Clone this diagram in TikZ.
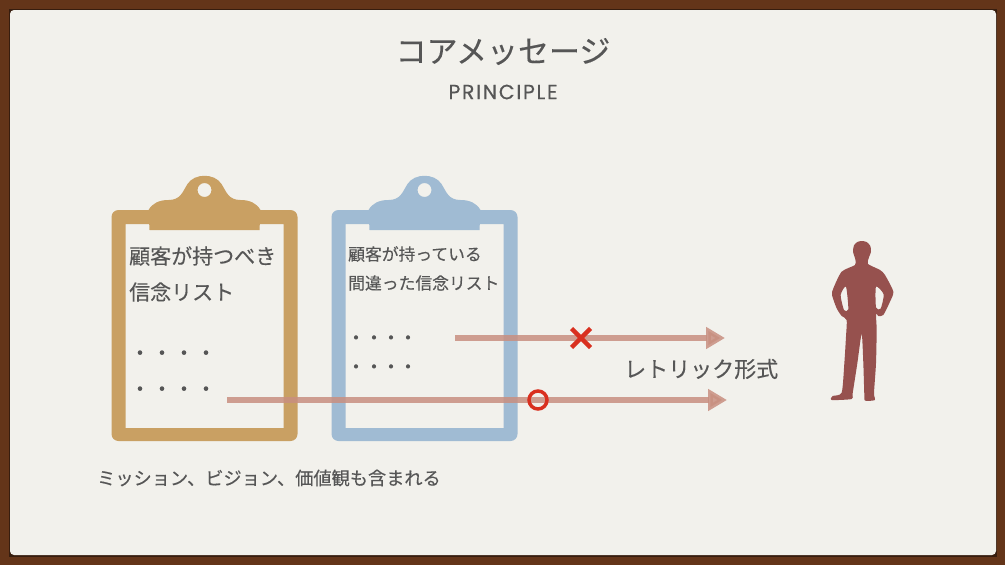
\documentclass[tikz,border=0pt]{standalone}
\usepackage{fontspec}
\setmainfont[FakeBold=.25]{Noto Sans CJK JP}
\newfontfamily\latinfont[LetterSpace=8,FakeBold=.5]{Poppins}
\usetikzlibrary{arrows.meta}
\definecolor{wood}{HTML}{643519}
\definecolor{paper}{HTML}{F2F1EC}
\definecolor{ink}{HTML}{565656}
\definecolor{boardtan}{HTML}{C9A063}
\definecolor{boardblue}{HTML}{A0BBD3}
\definecolor{rust}{HTML}{C88F80}
\definecolor{markred}{HTML}{D9301F}
\definecolor{personred}{HTML}{96514E}
\tikzset{
  textline/.style={anchor=west,inner sep=0pt,text=ink,font=\fontsize{#1}{#1}\selectfont},
  dotmark/.style={text=ink,inner sep=0pt,font=\fontsize{#1}{#1}\selectfont},
  flow/.style={-{Triangle[length=19pt,width=21pt]},line width=6pt,rust,opacity=.85},
  pics/clipboard/.style={code={
    \fill[#1,even odd rule,rounded corners=7pt] (-93,34) rectangle (93,265)
      [rounded corners=0pt] (-79,48) rectangle (79,252);
    \fill[#1,even odd rule] (-55,54) -- (-56,34) .. controls (-52,27) and (-45,24) .. (-36,24)
      .. controls (-24,24) and (-22,16) .. (-17,8) .. controls (-10,-3) and (10,-3) .. (17,8)
      .. controls (22,16) and (24,24) .. (36,24) .. controls (45,24) and (52,27) .. (56,34)
      -- (55,54) -- cycle (0,14) circle (7);
  }}
}
\begin{document}
\begin{tikzpicture}[x=1pt,y=-1pt]
  \useasboundingbox (0,0) rectangle (1005,565);
  \fill[wood] (0,0) rectangle (1005,565);
  \fill[wood!55!black] (9,9) rectangle (997,557);
  \fill[paper,rounded corners=4pt] (10,10) rectangle (996,555);
  % title
  \node[text=ink,font=\fontsize{31}{31}\selectfont] (title) at (503,51.5) {コアメッセージ};
  \node[text=ink,font=\fontsize{20.5}{20}\selectfont\latinfont] (subtitle) at (503,92) {PRINCIPLE};
  % clipboards
  \pic at (204.5,176) {clipboard=boardtan};
  \pic at (424.5,176) {clipboard=boardblue};
  \node[textline=21] (goodone) at (129,256) {顧客が持つべき};
  \node[textline=21] (goodtwo) at (129,292) {信念リスト};
  \node[textline=16.8] (badone) at (348,254) {顧客が持っている};
  \node[textline=16.8] (badtwo) at (348,283) {間違った信念リスト};
  \foreach \x in {140,162,184,206} {
    \node[dotmark=21] at (\x,355.5) {・};
    \node[dotmark=21] at (\x,391.5) {・};
  }
  \foreach \x in {356,374,391,408} {
    \node[dotmark=19] at (\x,340) {・};
    \node[dotmark=19] at (\x,369) {・};
  }
  \node[textline=18.2] (note) at (97,478) {ミッション、ビジョン、価値観も含まれる};
  % arrows
  \coordinate (badstart) at (455,338);
  \coordinate (badend) at (725,338);
  \coordinate (goodstart) at (227,400);
  \coordinate (goodend) at (727,400);
  \draw[flow] (badstart) -- (badend);
  \draw[flow] (goodstart) -- (goodend);
  \node[textline=22] (form) at (624,369) {レトリック形式};
  \draw[markred,line width=4.5pt] (581,338) +(-9.5,-9.5) -- +(9.5,9.5) (581,338) +(9.5,-9.5) -- +(-9.5,9.5);
  \draw[markred,line width=3.5pt] (538,400) circle (9);
  % person
  \begin{scope}[shift={(810,230)},x=.3333pt,y=-.3333pt]
    \fill[personred,even odd rule] plot[smooth cycle,tension=.4] coordinates {
      (155,33) (170,36) (181,48) (183,65) (176,85) (174,102) (210,120) (225,135) (250,185) (240,215)
      (220,255) (205,258) (198,252) (200,300) (198,400) (192,490) (195,510) (165,512) (163,495)
      (160,400) (155,312) (142,400) (128,490) (125,507) (65,510) (68,498) (95,488) (103,400)
      (108,320) (110,270) (95,258) (80,235) (66,195) (70,175) (95,125) (135,105) (136,88)
      (129,65) (132,46) (142,36)}
      plot[smooth cycle,tension=.4] coordinates {(198,170) (221,193) (212,236) (198,232)}
      plot[smooth cycle,tension=.4] coordinates {(108,170) (92,195) (102,240) (115,238)};
  \end{scope}
\end{tikzpicture}
\end{document}
